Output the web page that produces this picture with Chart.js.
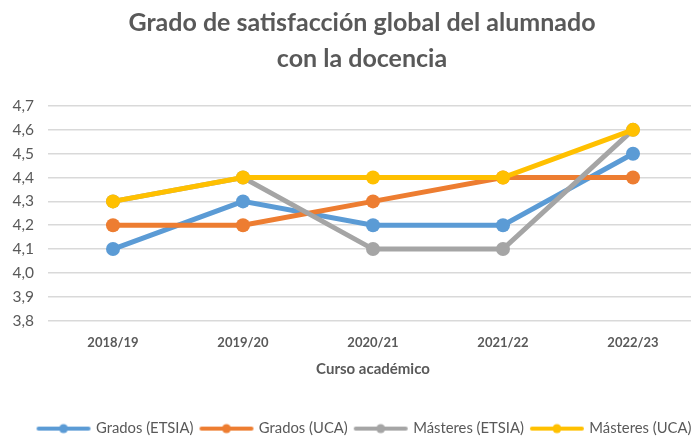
<!DOCTYPE html>
<html><head><meta charset="utf-8">
<script src="https://cdn.jsdelivr.net/npm/chart.js@4"></script>
<style>html,body{margin:0;padding:0;overflow:hidden;background:#fff}canvas{display:block}</style>
</head><body>
<canvas id="c" width="705" height="446"></canvas>
<script>
const categories = ['2018/19', '2019/20', '2020/21', '2021/22', '2022/23'];
const gradosEtsia = [4.1, 4.3, 4.2, 4.2, 4.5];
const gradosUca = [4.2, 4.2, 4.3, 4.4, 4.4];
const masteresEtsia = [4.3, 4.4, 4.1, 4.1, 4.6];
const masteresUca = [4.3, 4.4, 4.4, 4.4, 4.6];
const seriesNames = ['Grados (ETSIA)', 'Grados (UCA)', 'Másteres (ETSIA)', 'Másteres (UCA)'];
const titleLines = ['Grado de satisfacción global del alumnado', 'con la docencia'];
const xAxisTitle = 'Curso académico';
const yMin = 3.8, yMax = 4.7, yStep = 0.1;

const colors = ['#5B9BD5', '#ED7D31', '#A5A5A5', '#FFC000'];
const textColor = '#595959';
const FONT = 'Lato, "Open Sans", sans-serif';

function legendMarker(color) {
  const c = document.createElement('canvas');
  c.width = 56; c.height = 14;
  const g = c.getContext('2d');
  g.strokeStyle = color; g.lineWidth = 4; g.lineCap = 'round';
  g.beginPath(); g.moveTo(3, 7); g.lineTo(53, 7); g.stroke();
  g.fillStyle = color; g.beginPath(); g.arc(28, 7, 4.5, 0, Math.PI * 2); g.fill();
  return c;
}
const markers = colors.map(legendMarker);

const seriesData = [gradosEtsia, gradosUca, masteresEtsia, masteresUca];
const datasets = seriesData.map((d, i) => ({
  label: seriesNames[i],
  data: d,
  borderColor: colors[i],
  backgroundColor: colors[i],
  borderWidth: 5,
  pointRadius: 7,
  pointHoverRadius: 7,
  pointBorderWidth: 0,
  tension: 0,
  order: seriesData.length - 1 - i
}));

const centerShift = {
  id: 'centerShift',
  afterLayout(chart) {
    const shift = (b, c) => { if (!b) return; const w = b.right - b.left; b.left = c - w / 2; b.right = c + w / 2; };
    shift(chart.titleBlock, 362);
    shift(chart.legend, 365);
  }
};

new Chart(document.getElementById('c'), {
  type: 'line',
  data: { labels: categories, datasets },
  plugins: [centerShift],
  options: {
    responsive: false,
    animation: false,
    devicePixelRatio: 1,
    layout: { padding: { left: 10, right: 0, top: 0, bottom: 0 } },
    plugins: {
      title: {
        display: true,
        text: titleLines,
        color: textColor,
        font: { family: FONT, size: 25, weight: 'bold', lineHeight: 1.44 },
        padding: { top: 5, bottom: 29 }
      },
      legend: {
        position: 'bottom',
        maxWidth: 2000,
        labels: {
          color: textColor,
          font: { family: FONT, size: 14.8 },
          usePointStyle: true,
          pointStyleWidth: 50,
          padding: 8,
          sort: (a, b) => a.datasetIndex - b.datasetIndex,
          generateLabels(chart) {
            const items = Chart.defaults.plugins.legend.labels.generateLabels(chart);
            items.forEach(it => { it.pointStyle = markers[it.datasetIndex]; });
            return items;
          }
        }
      },
      tooltip: { enabled: false }
    },
    scales: {
      x: {
        offset: true,
        grid: { display: false, drawTicks: false },
        border: { display: false },
        ticks: { color: textColor, font: { family: FONT, size: 13, weight: 'bold' }, padding: 14, maxRotation: 0 },
        title: { display: true, text: xAxisTitle, color: textColor, font: { family: FONT, size: 15, weight: 'bold' }, padding: { top: 0, bottom: 34.6 } },
        afterFit(scale) { scale.paddingLeft = 0; scale.paddingRight = 0; scale.height = 92.6; }
      },
      y: {
        min: yMin, max: yMax,
        grid: { color: '#D9D9D9', lineWidth: 1.5, drawTicks: false },
        border: { display: false },
        ticks: {
          stepSize: yStep,
          autoSkip: false,
          color: textColor,
          font: { family: FONT, size: 15.5 },
          padding: 14,
          callback: v => Number(v).toFixed(1).replace('.', ',')
        },
        afterFit(scale) { scale.width = 38; }
      }
    }
  }
});
</script>
</body></html>
